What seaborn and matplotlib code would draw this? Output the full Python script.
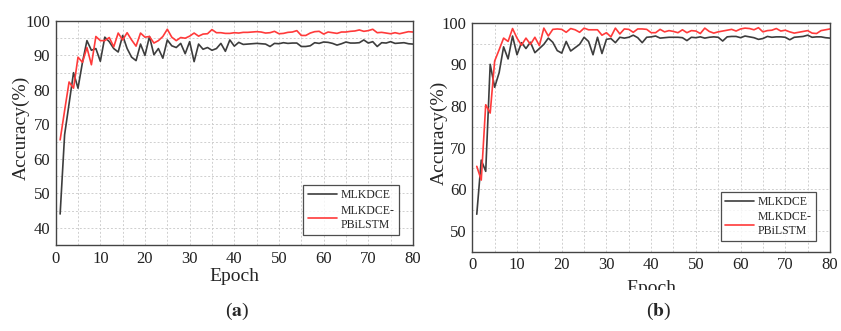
import numpy as np
import pandas as pd
import matplotlib
matplotlib.use("Agg")
import matplotlib.pyplot as plt
import seaborn as sns
from matplotlib.ticker import MultipleLocator
from matplotlib.transforms import Bbox

sns.set_style("white")
plt.rcParams['font.family'] = ['Liberation Serif', 'DejaVu Serif']
plt.rcParams['mathtext.fontset'] = 'stix'

epochs = list(range(1, 81))
series_names = ["MLKDCE", "MLKDCE-\nPBiLSTM"]

a_mlkdce = [44, 67, 76, 85, 80.5, 88, 94.3, 91.5, 92, 88.3,
            95.3, 94, 92, 91, 95.8, 92, 89.5, 88.5, 93.3, 90,
            95.5, 90.2, 92, 89.2, 94.5, 92.8, 92.3, 93.5, 90.5, 94,
            88.2, 93.3, 91.8, 92.3, 91.5, 92, 93.5, 91.2, 94.5, 92.7,
            93.8, 93.2, 93.3, 93.4, 93.5, 93.4, 93.3, 92.6, 93.5, 93.4,
            93.7, 93.5, 93.6, 93.6, 92.6, 92.6, 92.8, 93.7, 93.5, 93.9,
            93.8, 93.5, 93.0, 93.4, 93.9, 93.6, 93.6, 93.7, 94.5, 93.6,
            94.0, 92.6, 93.7, 93.6, 94.0, 93.5, 93.6, 93.7, 93.4, 93.3]
a_pbilstm = [65.5, 74, 82.3, 80.5, 89.5, 88, 92.3, 87.3, 95.5, 94.3,
             94.3, 95.2, 92.5, 96.5, 94.5, 96.6, 94.5, 92.7, 96.5, 95.3,
             95.5, 93.6, 94.3, 95.5, 97.6, 95.3, 94.3, 95.2, 95, 95.6,
             96.5, 95.6, 96.2, 96.3, 97.5, 96.6, 96.6, 96.4, 96.4, 96.6,
             96.5, 96.7, 96.7, 96.8, 96.9, 96.8, 96.5, 96.6, 97.0, 96.3,
             96.4, 96.7, 96.8, 97.2, 95.8, 95.8, 96.5, 96.9, 97.0, 96.2,
             96.8, 96.6, 96.4, 96.8, 96.8, 97.0, 97.1, 97.4, 97.0, 97.2,
             97.6, 96.6, 96.7, 96.5, 96.3, 96.6, 96.3, 96.6, 96.9, 96.8]
b_mlkdce = [54, 67, 64.3, 90, 84.5, 88, 94.2, 91.3, 96.8, 92.3,
            95.2, 93.8, 95.3, 92.8, 93.8, 94.8, 96.3, 95.3, 93.3, 92.7,
            95.5, 93.2, 94, 94.8, 96.5, 95.5, 92.3, 96.5, 92.6, 96,
            96.2, 95.2, 96.5, 96.3, 96.5, 97, 96.4, 95.2, 96.5, 96.6,
            96.8, 96.3, 96.4, 96.5, 96.5, 96.5, 96.4, 95.7, 96.5, 96.4,
            96.6, 96.3, 96.5, 96.6, 96.5, 95.6, 96.6, 96.7, 96.7, 96.4,
            96.8, 96.6, 96.4, 96.0, 96.2, 96.7, 96.5, 96.6, 96.6, 96.5,
            95.9, 96.5, 96.6, 96.7, 97.0, 96.5, 96.6, 96.6, 96.4, 96.3]
b_pbilstm = [65.5, 62.2, 80.3, 78.3, 90.8, 93.5, 96.3, 95.5, 98.6, 96.3,
             94.6, 96.3, 94.8, 96.5, 94.5, 98.7, 96.8, 98.4, 98.5, 98.4,
             97.7, 98.6, 98.3, 97.7, 98.7, 98.3, 98.3, 98.3, 97, 97.6,
             96.6, 98.7, 97.3, 98.5, 98.4, 97.7, 98.5, 98.5, 98.4, 97.6,
             97.6, 98.4, 97.8, 98.1, 97.9, 97.6, 98.3, 97.6, 98.1, 98.0,
             97.4, 98.7, 97.9, 97.5, 97.8, 98.0, 98.2, 98.4, 98.0, 98.5,
             98.7, 98.6, 98.3, 98.8, 97.8, 98.1, 98.2, 98.6, 98.0, 98.2,
             97.8, 97.5, 97.7, 97.9, 98.1, 97.5, 97.4, 98.1, 98.3, 98.5]

palette = {series_names[0]: "#3d3d3d", series_names[1]: "#ff3a3a"}


def make_df(s1, s2):
    return pd.DataFrame({
        "Epoch": epochs * 2,
        "Accuracy": s1 + s2,
        "Model": [series_names[0]] * 80 + [series_names[1]] * 80,
    })


fig = plt.figure(figsize=(8.41, 3.31), dpi=100)
ax1 = fig.add_axes([0.0662, 0.2598, 0.4248, 0.6768])
ax2 = fig.add_axes([0.5616, 0.2396, 0.4253, 0.6918])

configs = [
    (ax1, make_df(a_mlkdce, a_pbilstm), (35, 100), [40, 50, 60, 70, 80, 90, 100], (-0.072, 0.525)),
    (ax2, make_df(b_mlkdce, b_pbilstm), (45, 100), [50, 60, 70, 80, 90, 100], (-0.068, 0.518)),
]

for ax, df, ylim, yticks, lblpos in configs:
    sns.lineplot(data=df, x="Epoch", y="Accuracy", hue="Model", palette=palette,
                 linewidth=1.2, ax=ax, legend=True)
    ax.set_xlim(0, 80)
    ax.set_ylim(*ylim)
    ax.set_xticks([0, 10, 20, 30, 40, 50, 60, 70, 80])
    ax.set_yticks(yticks)
    ax.xaxis.set_minor_locator(MultipleLocator(5))
    ax.yaxis.set_minor_locator(MultipleLocator(5))
    ax.grid(True, which="both", linestyle=(0, (2, 2)), color="#cfcfcf", linewidth=0.7)
    ax.set_axisbelow(True)
    ax.tick_params(which="major", direction="in", length=3, width=0.8,
                   labelsize=12, colors="#222222", pad=4)
    ax.tick_params(which="minor", length=0)
    for sp in ax.spines.values():
        sp.set_color("#444444")
        sp.set_linewidth(1.0)
    ax.set_ylabel("Accuracy(%)", fontsize=14)
    ax.yaxis.set_label_coords(*lblpos)
    leg = ax.legend(loc="lower right", bbox_to_anchor=(0.97, 0.03), fontsize=8.5,
                    frameon=True, fancybox=False, edgecolor="#222222",
                    handlelength=2.5, handletextpad=0.3, borderpad=0.35,
                    labelspacing=0.3, borderaxespad=0.3)
    leg.get_frame().set_linewidth(0.9)

ax1.set_xlabel("Epoch", fontsize=14, labelpad=1)
ax2.set_xlabel("")
t = fig.text(0.774, 0.128, "Epoch", fontsize=14, ha="center", va="center")
t.set_clip_on(True)
t.set_clip_box(Bbox.from_extents(0, 331 - 290, 841, 331))

fig.text(0.2818, 0.028, r"($\mathbf{a}$)", fontsize=14, ha="center", va="bottom")
fig.text(0.7836, 0.028, r"($\mathbf{b}$)", fontsize=14, ha="center", va="bottom")

fig.savefig("out.png", dpi=100, facecolor="white")
